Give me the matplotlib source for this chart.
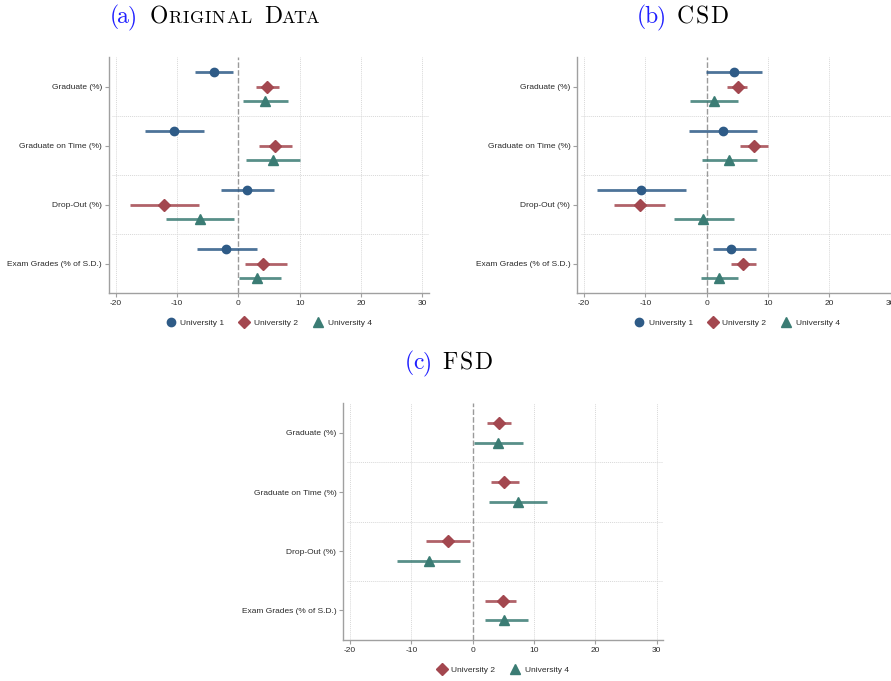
import matplotlib
matplotlib.use("Agg")
import matplotlib.pyplot as plt
import numpy as np

plt.rcParams["axes.unicode_minus"] = False

categories = ["Graduate (%)", "Graduate on Time (%)", "Drop-Out (%)",
              "Exam Grades (% of S.D.)"]
xticks = [-20, -10, 0, 10, 20, 30]

# (a) Original data: point estimates and confidence bounds
orig_u1_est = [-4.0, -10.5, 1.45, -1.95]
orig_u1_lo = [-7.15, -15.3, -2.85, -6.8]
orig_u1_hi = [-0.8, -5.6, 5.85, 3.0]
orig_u2_est = [4.7, 6.0, -12.15, 4.0]
orig_u2_lo = [2.8, 3.4, -17.7, 1.1]
orig_u2_hi = [6.6, 8.7, -6.45, 7.95]
orig_u4_est = [4.4, 5.6, -6.3, 3.0]
orig_u4_lo = [0.75, 1.2, -11.8, 0.05]
orig_u4_hi = [8.1, 10.1, -0.75, 7.0]

# (b) CSD
csd_u1_est = [4.5, 2.6, -10.65, 4.0]
csd_u1_lo = [-0.05, -2.8, -17.9, 1.1]
csd_u1_hi = [8.95, 8.15, -3.4, 8.0]
csd_u2_est = [5.05, 7.75, -10.9, 6.0]
csd_u2_lo = [3.4, 5.45, -15.1, 4.05]
csd_u2_hi = [6.65, 10.0, -6.75, 8.0]
csd_u4_est = [1.15, 3.7, -0.55, 2.05]
csd_u4_lo = [-2.75, -0.8, -5.35, -0.9]
csd_u4_hi = [5.1, 8.25, 4.45, 5.05]

# (c) FSD
fsd_u2_est = [4.3, 5.15, -4.1, 5.0]
fsd_u2_lo = [2.35, 2.95, -7.65, 2.0]
fsd_u2_hi = [6.3, 7.55, -0.5, 7.0]
fsd_u4_est = [4.2, 7.45, -7.15, 5.05]
fsd_u4_lo = [0.3, 2.65, -12.3, 2.0]
fsd_u4_hi = [8.15, 12.1, -2.0, 9.0]

STYLE = {
    "University 1": ("#2e5b87", "o", 6.0),
    "University 2": ("#a3474f", "D", 6.5),
    "University 4": ("#3b7c74", "^", 6.8),
}

W, H = 891, 681
fig = plt.figure(figsize=(W / 100, H / 100), dpi=100)

SANS = "Liberation Sans"
TXT = "#2a2a2a"
AXC = "#a0a0a0"


def coef_panel(rect, series):
    ax = fig.add_axes(rect)
    n = len(series)
    y = np.arange(len(categories))
    handles = []
    for i, (label, est, lo, hi) in enumerate(series):
        color, marker, ms = STYLE[label]
        off = (i - (n - 1) / 2) / (n + 1)
        yy = y + off
        ax.hlines(yy, lo, hi, color=color, lw=2.0, alpha=0.85, zorder=3)
        h, = ax.plot(est, yy, ls="none", marker=marker, ms=ms, color=color,
                     mec=color, zorder=4, label=label)
        handles.append(h)
    ax.axvline(0, color="#9a9a9a", lw=1.0, ls=(0, (4, 1.6)), zorder=2)
    for g in [0.5, 1.5, 2.5]:
        ax.axhline(g, xmin=0.01, color="#d8d8d8", lw=0.7, ls=(0, (1, 1)),
                   zorder=1)
    for xt in xticks:
        if xt != 0:
            ax.axvline(xt, color="#d8d8d8", lw=0.7, ls=(0, (1, 1)), zorder=1)
    ax.set_xlim(-21.1, 31.1)
    ax.set_ylim(3.5, -0.5)
    ax.set_xticks(xticks)
    ax.set_xticklabels([str(v) for v in xticks], fontsize=6, family=SANS,
                       color=TXT)
    ax.set_yticks(y)
    ax.set_yticklabels(categories, fontsize=6, family=SANS, color=TXT)
    for s in ["top", "right"]:
        ax.spines[s].set_visible(False)
    for s in ["left", "bottom"]:
        ax.spines[s].set_color(AXC)
        ax.spines[s].set_linewidth(1.0)
    ax.tick_params(axis="both", color=AXC, length=3, width=0.8, pad=2)
    leg = ax.legend(handles=handles, loc="center",
                    bbox_to_anchor=(0.5, -0.127), ncol=n, frameon=False,
                    prop={"family": SANS, "size": 6}, handletextpad=0.65,
                    columnspacing=1.9, handlelength=1.0, borderaxespad=0)
    for t in leg.get_texts():
        t.set_color(TXT)
    return ax


ax_h = 236 / H
coef_panel([109 / W, 1 - 293 / H, 320 / W, ax_h], [
    ("University 1", orig_u1_est, orig_u1_lo, orig_u1_hi),
    ("University 2", orig_u2_est, orig_u2_lo, orig_u2_hi),
    ("University 4", orig_u4_est, orig_u4_lo, orig_u4_hi),
])
coef_panel([577.3 / W, 1 - 293 / H, 320 / W, ax_h], [
    ("University 1", csd_u1_est, csd_u1_lo, csd_u1_hi),
    ("University 2", csd_u2_est, csd_u2_lo, csd_u2_hi),
    ("University 4", csd_u4_est, csd_u4_lo, csd_u4_hi),
])
coef_panel([343.3 / W, 1 - 640 / H, 320 / W, 236.7 / H], [
    ("University 2", fsd_u2_est, fsd_u2_lo, fsd_u2_hi),
    ("University 4", fsd_u4_est, fsd_u4_lo, fsd_u4_hi),
])

renderer = fig.canvas.get_renderer()
BIG, SMALL = 17.0, 13.0
LINK = "#1f1fff"


def spaced_word(x0, x1, base, chars, color):
    """Lay out glyphs one by one between pixel x0 and x1 on one baseline."""
    widths = []
    for ch, size in chars:
        t = fig.text(0, 0, ch, fontsize=size, family="cmr10")
        widths.append(t.get_window_extent(renderer).width)
        t.remove()
    extra = 0.0
    if len(chars) > 1:
        extra = (x1 - x0 - sum(widths)) / (len(chars) - 1)
    x = x0
    for (ch, size), w in zip(chars, widths):
        fig.text(x / W, 1 - base / H, ch, fontsize=size, color=color,
                 family="cmr10", ha="left", va="baseline")
        x += w + extra


def caps(word):
    return [(word[0], BIG)] + [(c, SMALL) for c in word[1:]]


# Panel captions
spaced_word(109.3, 136.7, 23, [("(", BIG), ("a", BIG), (")", BIG)], LINK)
spaced_word(149.3, 251.7, 23, caps("ORIGINAL"), "black")
spaced_word(264.3, 319.3, 23, caps("DATA"), "black")

spaced_word(636.7, 666.0, 23, [("(", BIG), ("b", BIG), (")", BIG)], LINK)
spaced_word(676.7, 728.3, 23, [("C", BIG), ("S", BIG), ("D", BIG)], "black")

spaced_word(405.0, 431.7, 369.3, [("(", BIG), ("c", BIG), (")", BIG)], LINK)
spaced_word(442.7, 492.7, 369.3, [("F", BIG), ("S", BIG), ("D", BIG)], "black")

fig.savefig("out.png", dpi=100)
